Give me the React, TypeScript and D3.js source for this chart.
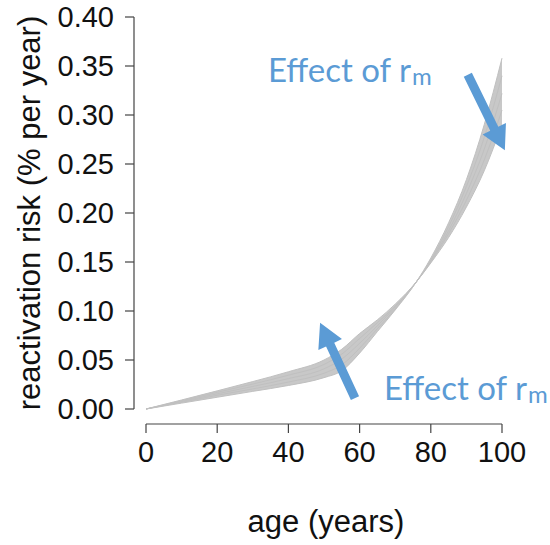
import React, { useMemo } from "react";
import * as d3 from "d3";

const W = 550;
const H = 545;

const ages = [0, 10, 20, 30, 40, 50, 55, 60, 65, 70, 76, 80, 85, 90, 95, 100];

// reactivation risk per curve (high r_m first, low r_m last)
const curveA = [0, 0.0092, 0.0185, 0.028, 0.038, 0.05, 0.061, 0.077, 0.091, 0.107, 0.13, 0.149, 0.175, 0.206, 0.243, 0.29];
const curveB = [0, 0.0085, 0.017, 0.0255, 0.0345, 0.0455, 0.056, 0.072, 0.088, 0.105, 0.13, 0.15, 0.179, 0.213, 0.254, 0.305];
const curveC = [0, 0.0077, 0.0155, 0.023, 0.031, 0.041, 0.051, 0.067, 0.085, 0.104, 0.13, 0.151, 0.182, 0.22, 0.265, 0.322];
const curveD = [0, 0.0069, 0.014, 0.0205, 0.0275, 0.0365, 0.045, 0.062, 0.082, 0.102, 0.13, 0.152, 0.186, 0.227, 0.277, 0.34];
const curveE = [0, 0.006, 0.012, 0.018, 0.024, 0.032, 0.039, 0.057, 0.079, 0.101, 0.13, 0.154, 0.19, 0.234, 0.29, 0.358];

const xTicks = [0, 20, 40, 60, 80, 100];
const yTicks = [0, 0.05, 0.1, 0.15, 0.2, 0.25, 0.3, 0.35, 0.4];

// annotation arrows in data units: [age, risk] tail -> tip
const arrowTop = [[90.4, 0.341], [100.8, 0.264]];
const arrowBottom = [[58.7, 0.011], [48.9, 0.088]];

const BLUE = "#5b9bd5";
const AXIS_FONT = "'Liberation Sans', Arial, sans-serif";
const NOTE_FONT = "Lato, 'Open Sans', sans-serif";

function arrowPath(tail: number[], tip: number[], shaft = 9, headW = 26, headL = 24) {
  const dx = tip[0] - tail[0];
  const dy = tip[1] - tail[1];
  const len = Math.hypot(dx, dy);
  const ux = dx / len, uy = dy / len;
  const nx = -uy, ny = ux;
  const bx = tip[0] - ux * headL, by = tip[1] - uy * headL;
  const pts = [
    [tail[0] + nx * shaft / 2, tail[1] + ny * shaft / 2],
    [bx + nx * shaft / 2, by + ny * shaft / 2],
    [bx + nx * headW / 2, by + ny * headW / 2],
    [tip[0], tip[1]],
    [bx - nx * headW / 2, by - ny * headW / 2],
    [bx - nx * shaft / 2, by - ny * shaft / 2],
    [tail[0] - nx * shaft / 2, tail[1] - ny * shaft / 2]
  ];
  return "M" + pts.map((p) => p.join(",")).join("L") + "Z";
}

export default function App() {
  const x = d3.scaleLinear().domain([0, 100]).range([146, 502]);
  const y = d3.scaleLinear().domain([0, 0.4]).range([409, 17]);

  const curves = [curveA, curveB, curveC, curveD, curveE];

  const { linePaths, bandPath } = useMemo(() => {
    const line = d3
      .line<number>()
      .x((_, i) => x(ages[i]))
      .y((d) => y(d))
      .curve(d3.curveMonotoneX);
    const band = d3
      .area<number>()
      .x((a) => x(a))
      .y0((_, i) => y(d3.min(curves, (c) => c[i]) as number))
      .y1((_, i) => y(d3.max(curves, (c) => c[i]) as number))
      .curve(d3.curveMonotoneX);
    return {
      linePaths: curves.map((c) => line(c) as string),
      bandPath: band(ages) as string
    };
  }, []);

  const pt = (d: number[]) => [x(d[0]), y(d[1])];

  return (
    <svg
      width={W}
      height={H}
      style={{ position: "absolute", left: 0, top: 0, background: "#fff" }}
    >
      {/* bundle of curves */}
      <path d={bandPath} fill="#c8c8c8" stroke="none" />
      {linePaths.map((d, i) => (
        <path key={i} d={d} fill="none" stroke="#c0c0c0" strokeWidth={1} />
      ))}

      {/* y axis */}
      <g stroke="#444" strokeWidth={1.2} fill="none">
        <line x1={134} x2={134} y1={y(0)} y2={y(0.4)} />
        {yTicks.map((t) => (
          <line key={t} x1={125} x2={134} y1={y(t)} y2={y(t)} />
        ))}
      </g>
      <g fontFamily={AXIS_FONT} fontSize={29} fill="#111" textAnchor="end">
        {yTicks.map((t) => (
          <text key={t} x={114} y={y(t) + 10}>
            {t.toFixed(2)}
          </text>
        ))}
      </g>

      {/* x axis */}
      <g stroke="#444" strokeWidth={1.2} fill="none">
        <line x1={x(0)} x2={x(100)} y1={424} y2={424} />
        {xTicks.map((t) => (
          <line key={t} x1={x(t)} x2={x(t)} y1={424} y2={433} />
        ))}
      </g>
      <g fontFamily={AXIS_FONT} fontSize={29} fill="#111" textAnchor="middle">
        {xTicks.map((t) => (
          <text key={t} x={x(t)} y={462}>
            {t}
          </text>
        ))}
      </g>

      {/* titles */}
      <text
        x={326}
        y={532}
        fontFamily={AXIS_FONT}
        fontSize={31}
        fill="#111"
        textAnchor="middle"
      >
        age (years)
      </text>
      <text
        transform={`translate(40,${(17 + 409) / 2}) rotate(-90)`}
        fontFamily={AXIS_FONT}
        fontSize={31}
        fill="#111"
        textAnchor="middle"
      >
        reactivation risk (% per year)
      </text>

      {/* annotations */}
      <path d={arrowPath(pt(arrowTop[0]), pt(arrowTop[1]))} fill={BLUE} />
      <path d={arrowPath(pt(arrowBottom[0]), pt(arrowBottom[1]))} fill={BLUE} />
      <text x={268} y={82} fontFamily={NOTE_FONT} fontSize={33} fill={BLUE}>
        Effect of r
        <tspan fontSize={24} dy={3} dx={1}>m</tspan>
      </text>
      <text x={384} y={400} fontFamily={NOTE_FONT} fontSize={33} fill={BLUE}>
        Effect of r
        <tspan fontSize={24} dy={3} dx={1}>m</tspan>
      </text>
    </svg>
  );
}
